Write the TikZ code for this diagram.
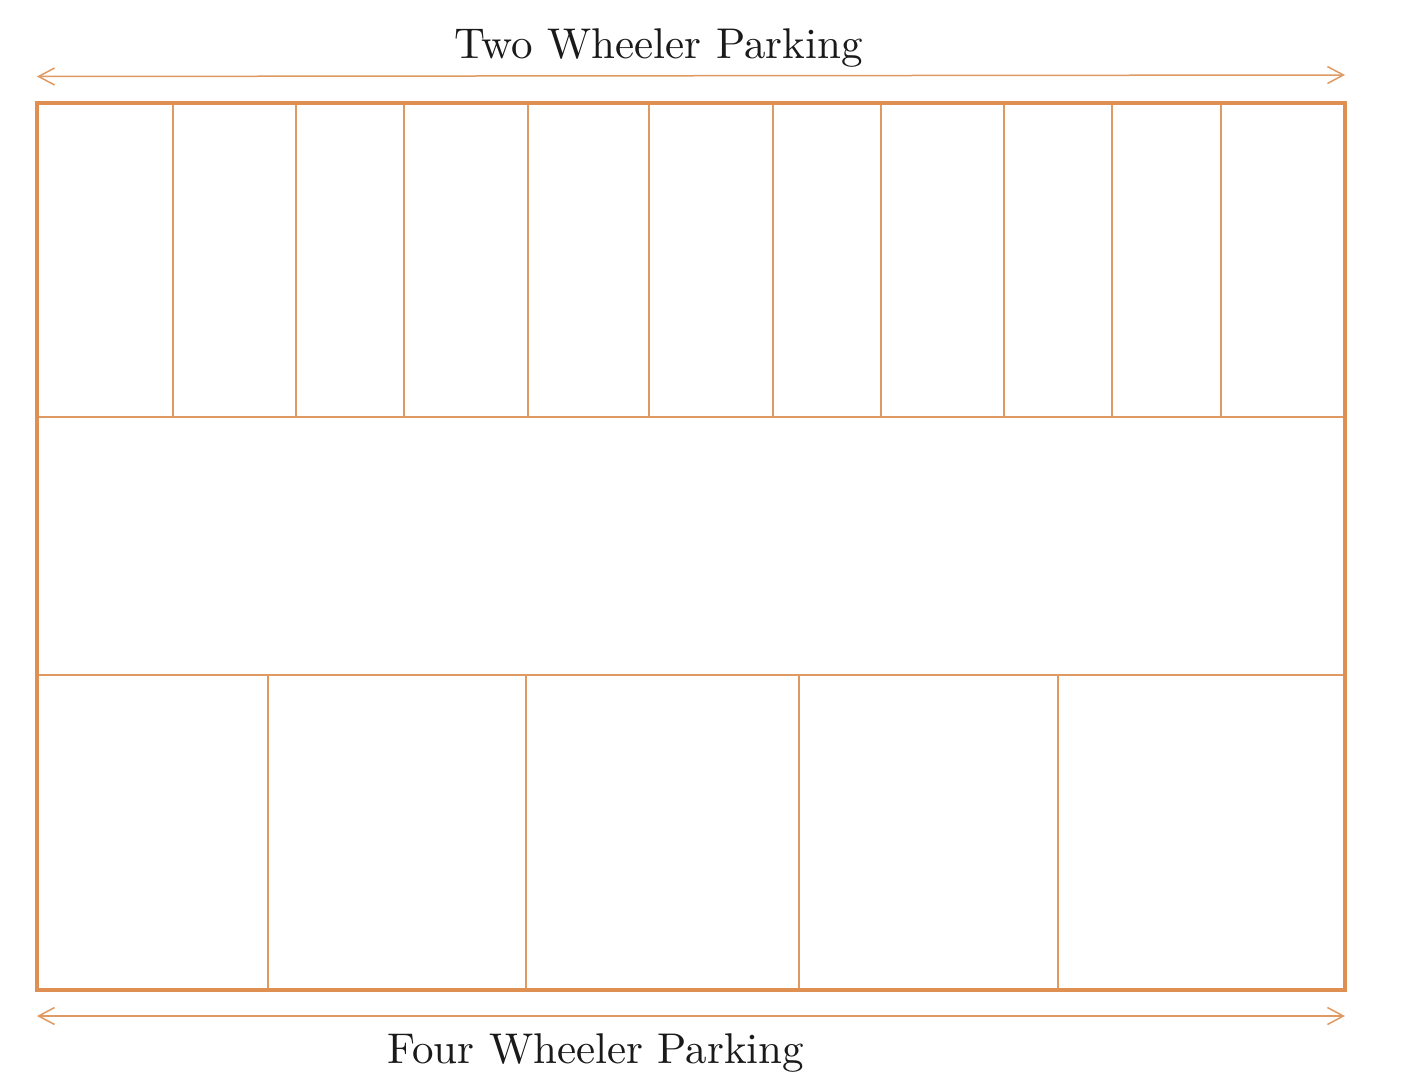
\documentclass[tikz,border=0pt]{standalone}
\usetikzlibrary{arrows.meta}
\definecolor{lot}{HTML}{E08F52}
\definecolor{lotthin}{HTML}{DF9A63}
\definecolor{ink}{HTML}{1A1A1A}
\tikzset{
  outer/.style={draw=lot,line width=4pt,line join=miter},
  stall/.style={draw=lotthin,line width=1.6pt},
  span/.style={draw=lotthin,line width=1.5pt,{Straight Barb[length=16pt,width=17pt,line width=1.5pt]}-{Straight Barb[length=16pt,width=17pt,line width=1.5pt]}},
  label/.style={text=ink,inner sep=0pt,anchor=base,scale=4.3,font=\fontsize{10}{12}\selectfont}
}
\begin{document}
\begin{tikzpicture}[x=1pt,y=-1pt]
\useasboundingbox (0,0) rectangle (1418,1090);
% stall dividers, top row
\foreach \x in {173,296,404,528,649,773,881,1004,1112,1221}
  \draw[stall] (\x,103) -- (\x,417);
% stall dividers, bottom row
\foreach \x in {268,526,799,1058}
  \draw[stall] (\x,675) -- (\x,989);
\draw[stall] (37,417) -- (1345,417);
\draw[stall] (37,675) -- (1345,675);
\draw[outer] (37,103) rectangle (1345,989.5);
\coordinate (tl) at (37,76.5);
\coordinate (tr) at (1345,75);
\coordinate (bl) at (37,1016);
\coordinate (br) at (1345,1016);
\draw[span] (tl) -- (tr);
\draw[span] (bl) -- (br);
\node[label] (two) at (658.5,58) {Two Wheeler Parking};
\node[label] (four) at (596,1063) {Four Wheeler Parking};
\end{tikzpicture}
\end{document}
